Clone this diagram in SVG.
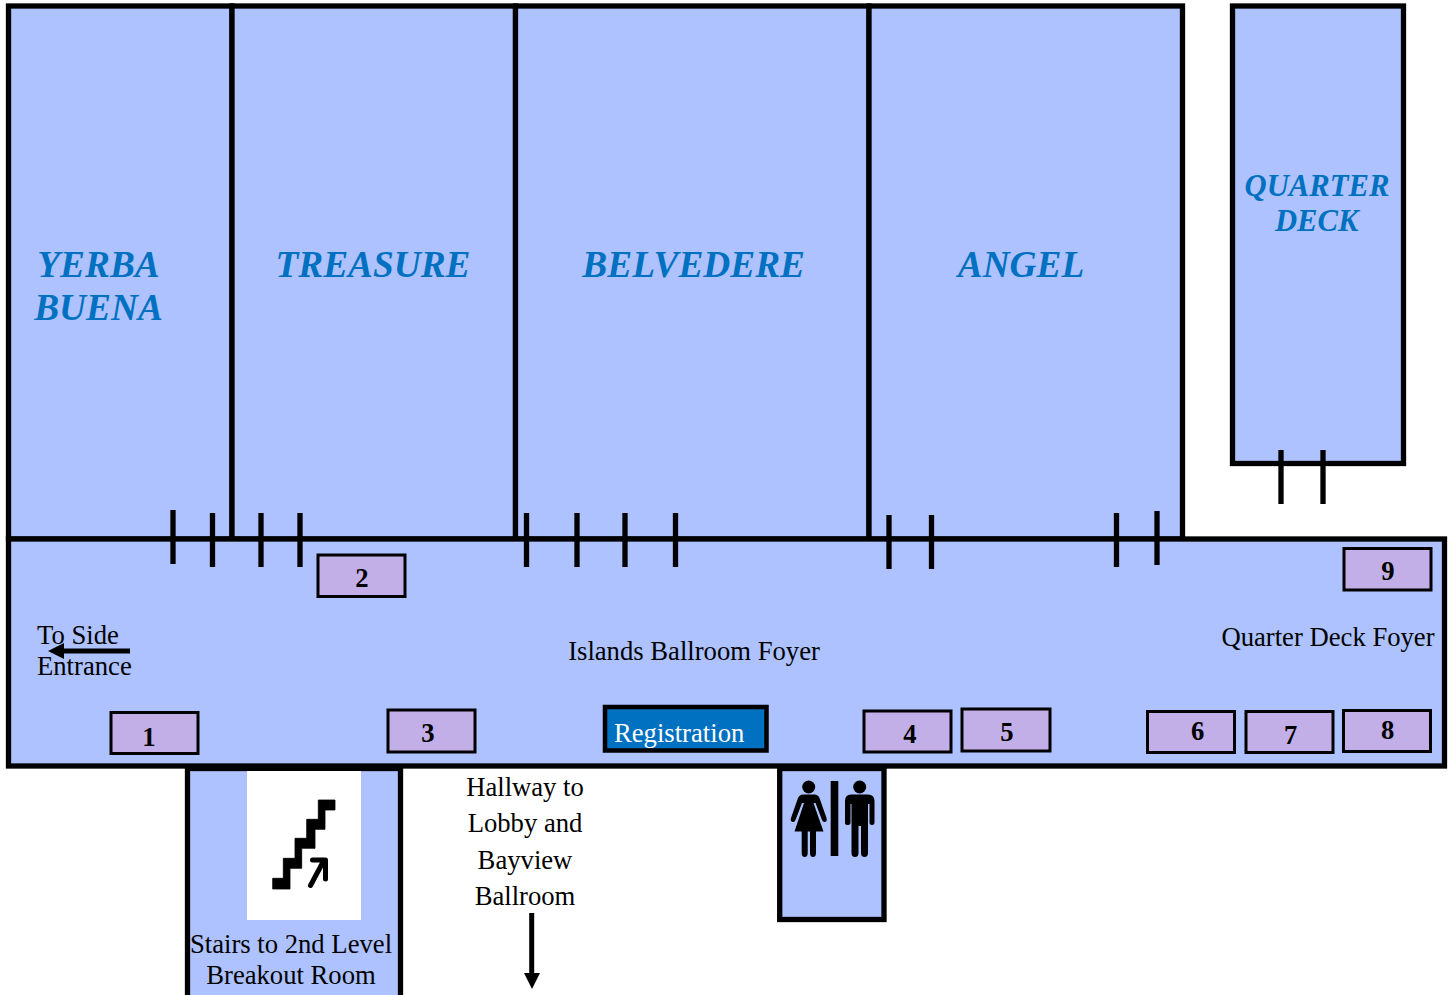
<svg xmlns="http://www.w3.org/2000/svg" width="1451" height="995" viewBox="0 0 1451 995">
<style>
text{font-family:"Liberation Serif","Times New Roman",serif;fill:#000}
.room{fill:#adc2ff;stroke:#000;stroke-width:5.3}
.door{stroke:#000;stroke-width:5.3;fill:none}
.lbl{font-size:26.67px}
.rn{font-size:37.33px;font-weight:bold;font-style:italic;fill:#0070c0;text-anchor:middle}
.qd{font-size:30.67px}
.booth rect{fill:#c3afe8;stroke:#000;stroke-width:3}
.booth text{font-size:26.67px;font-weight:bold;text-anchor:middle}
.m{text-anchor:middle}
.fg{fill:#000;stroke:none}
</style>
<g id="stairs-room">
<rect class="room" x="187.500" y="768.500" width="213" height="240"/>
<rect x="247" y="771" width="114" height="149" fill="#fff"/>
<path d="M318.300 800H335V810H325V829.300H315V848.300H301.700V868.300H290V889H272.700V878.300H283.300V858.300H295V838.300H306.700V819.300H318.300Z" fill="#000" stroke="#000" stroke-width="0.800" stroke-linejoin="round"/>
<path d="M310.500 885.500L323 862M312.500 860H325.500V879" fill="none" stroke="#000" stroke-width="5" stroke-linecap="round" stroke-linejoin="round"/>
<text class="lbl m" x="291" y="952.700">Stairs to 2nd Level</text>
<text class="lbl m" x="291" y="983.700">Breakout Room</text>
</g>
<g id="restroom">
<rect class="room" x="779.700" y="768.500" width="104.300" height="151"/>
<g class="fg">
<circle cx="808.700" cy="787" r="6.500"/>
<path d="M803 794.500H814.500Q818 794.500 819.500 798L826.500 818Q827.500 821 825 822Q823 822.500 822 820L815.500 803L813.500 803L823.500 831.500H816V853Q816 857 813 857Q810 857 810 853V831.500H807.700V853Q807.700 857 804.700 857Q801.700 857 801.700 853V831.500H794.500L804 803H802L795.500 820Q794.500 822.500 792.500 822Q790 821 791 818L798 798Q799.500 794.500 803 794.500Z"/>
<rect x="830.700" y="781" width="7.600" height="75"/>
<circle cx="859.700" cy="787" r="6.500"/>
<path d="M851 794.500H868Q874.500 794.500 874.500 801V823Q874.500 825 872 825Q869.500 825 869.500 823V804H868V853Q868 857 864.500 857Q861 857 861 853V826H858.500V853Q858.500 857 855 857Q851.500 857 851.500 853V804H850.500V823Q850.500 825 848 825Q845 825 845 823V801Q845 794.500 851 794.500Z"/>
</g>
</g>
<g id="yerba-buena"><rect class="room" x="8.500" y="6" width="223.500" height="533"/><text class="rn" x="98.500" y="277">YERBA</text><text class="rn" x="98.500" y="320">BUENA</text></g>
<g id="treasure"><rect class="room" x="232" y="6" width="283.500" height="533"/><text class="rn" x="373" y="277">TREASURE</text></g>
<g id="belvedere"><rect class="room" x="515.500" y="6" width="353.500" height="533"/><text class="rn" x="693.700" y="277">BELVEDERE</text></g>
<g id="angel"><rect class="room" x="869" y="6" width="313.500" height="533"/><text class="rn" x="1021" y="277">ANGEL</text></g>
<g id="quarter-deck"><rect class="room" x="1232.500" y="6" width="171" height="457.500"/><text class="rn qd" x="1317" y="196.300">QUARTER</text><text class="rn qd" x="1316.700" y="231.300">DECK</text></g>
<g id="foyer"><rect class="room" x="8.500" y="539" width="1436" height="227"/>
<text class="lbl m" x="694" y="659.700">Islands Ballroom Foyer</text>
<text class="lbl m" x="1328" y="645.700">Quarter Deck Foyer</text>
<text class="lbl" x="37" y="643.700">To Side</text>
<text class="lbl" x="37" y="674.700">Entrance</text>
<text class="lbl m" x="525" y="795.700">Hallway to</text>
<text class="lbl m" x="525" y="831.700">Lobby and</text>
<text class="lbl m" x="525" y="868.700">Bayview</text>
<text class="lbl m" x="525" y="904.700">Ballroom</text>
</g>
<g id="booth-1" class="booth"><rect x="111" y="712.500" width="87" height="41"/><text x="149" y="746">1</text></g>
<g id="booth-2" class="booth"><rect x="318" y="555" width="87" height="41.500"/><text x="362" y="587">2</text></g>
<g id="booth-3" class="booth"><rect x="388" y="710" width="87" height="42"/><text x="428" y="742">3</text></g>
<g id="booth-4" class="booth"><rect x="864" y="711" width="87" height="41"/><text x="910" y="743">4</text></g>
<g id="booth-5" class="booth"><rect x="962" y="709" width="88" height="42"/><text x="1007" y="741">5</text></g>
<g id="booth-6" class="booth"><rect x="1147.500" y="711.500" width="87" height="41"/><text x="1197.700" y="739.500">6</text></g>
<g id="booth-7" class="booth"><rect x="1246" y="711.500" width="87" height="41"/><text x="1290.700" y="744">7</text></g>
<g id="booth-8" class="booth"><rect x="1343.500" y="710.500" width="87" height="41"/><text x="1387.700" y="738.500">8</text></g>
<g id="booth-9" class="booth"><rect x="1344" y="548.500" width="87" height="41.500"/><text x="1388" y="580">9</text></g>
<g id="registration"><rect x="605" y="707" width="161.500" height="43.500" fill="#0070c0" stroke="#000" stroke-width="4.500"/><text class="lbl" x="614" y="741.700" style="fill:#fff">Registration</text></g>
<g id="connectors">
<path class="door" d="M173 510V564M212.500 513V567M261 513V567M300 513V567M526.500 513V567M577 513V567M625 513V567M675.500 513V567M889 515V569M931.500 515V569M1116.500 513V567M1157 511V565M1281 450V504M1323 450V504"/>
<path d="M130 651H60" stroke="#000" stroke-width="5" fill="none"/><path d="M48 651L64 643V659Z" fill="#000"/>
<path d="M531.700 913V975" stroke="#000" stroke-width="5" fill="none"/><path d="M532 989L524 973H540Z" fill="#000"/>
</g>
</svg>
